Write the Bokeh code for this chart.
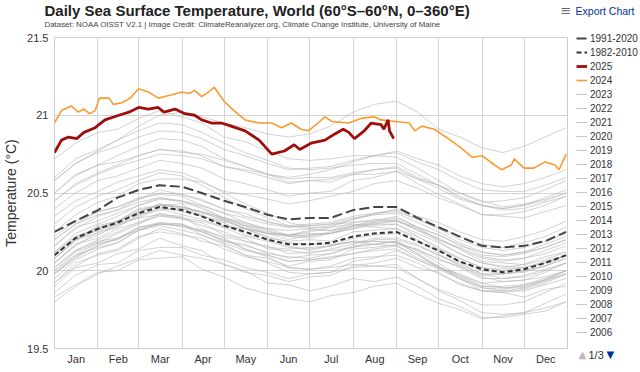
from bokeh.plotting import figure
from bokeh.layouts import column, row
from bokeh.models import (FixedTicker, Legend, LegendItem, Label, Range1d,
                          CustomJSTickFormatter, NumeralTickFormatter)
from bokeh.embed import file_html
from bokeh.resources import INLINE

FONT = "Liberation Sans"

# ---------------- data ----------------
month_names = ["Jan", "Feb", "Mar", "Apr", "May", "Jun", "Jul", "Aug", "Sep", "Oct", "Nov", "Dec"]
month_starts = [0, 31, 60, 91, 121, 152, 182, 213, 244, 274, 305, 335, 366]
y_ticks = [19.5, 20.0, 20.5, 21.0, 21.5]

half_month_days = [0, 15, 31, 45, 60, 75, 91, 105, 121, 136, 152, 167, 182, 197, 213, 228, 244,
                   259, 274, 289, 305, 320, 335, 350, 365]

clim_1991_2020 = [20.25, 20.32, 20.39, 20.47, 20.52, 20.55, 20.54, 20.50, 20.45, 20.41, 20.36, 20.33,
                  20.34, 20.34, 20.39, 20.41, 20.41, 20.34, 20.28, 20.22, 20.16, 20.15, 20.16, 20.19, 20.25]
clim_1982_2010 = [20.10, 20.21, 20.27, 20.31, 20.37, 20.41, 20.39, 20.35, 20.29, 20.25, 20.20, 20.17,
                  20.17, 20.18, 20.22, 20.24, 20.25, 20.19, 20.13, 20.06, 20.01, 19.99, 20.01, 20.05, 20.10]

days_2025 = [0, 5, 10, 16, 21, 29, 36, 46, 53, 60, 67, 74, 78, 86, 93, 100, 105, 112, 119, 126,
             136, 146, 155, 164, 171, 175, 183, 193, 200, 206, 210, 214, 221, 226, 233, 235, 238, 239, 242]
sst_2025 = [20.76, 20.84, 20.86, 20.85, 20.89, 20.92, 20.97, 21.00, 21.02, 21.05, 21.04, 21.05, 21.02,
            21.04, 21.01, 21.00, 20.97, 20.95, 20.95, 20.93, 20.90, 20.84, 20.75, 20.77, 20.81, 20.78,
            20.82, 20.84, 20.88, 20.91, 20.89, 20.85, 20.90, 20.95, 20.94, 20.91, 20.97, 20.90, 20.85]

days_2024 = [0, 5, 12, 17, 21, 25, 29, 32, 39, 42, 48, 54, 60, 67, 74, 83, 91, 96, 100, 105,
             110, 114, 121, 128, 136, 146, 155, 162, 169, 176, 181, 188, 193, 198, 210, 219, 228, 233,
             243, 253, 257, 262, 271, 281, 290, 298, 305, 314, 319, 326, 328, 335, 342, 350, 357, 360, 365]
sst_2024 = [20.95, 21.03, 21.06, 21.02, 21.04, 21.01, 21.03, 21.11, 21.11, 21.07, 21.08, 21.11, 21.17,
            21.15, 21.11, 21.13, 21.15, 21.14, 21.16, 21.12, 21.15, 21.18, 21.09, 21.03, 20.97, 20.95,
            20.95, 20.92, 20.95, 20.91, 20.90, 20.95, 20.99, 20.96, 20.95, 20.98, 20.99, 20.97, 20.96,
            20.95, 20.90, 20.93, 20.91, 20.85, 20.79, 20.73, 20.74, 20.68, 20.65, 20.68, 20.72, 20.66,
            20.66, 20.70, 20.68, 20.65, 20.75]

sst_1982 = [19.92, 20.05, 20.10, 20.13, 20.21, 20.27, 20.24, 20.19, 20.16, 20.10, 20.08, 20.03, 20.06, 20.07, 20.14, 20.15, 20.17, 20.14, 20.07, 20.03, 19.97, 19.98, 20.00, 20.03, 20.10]
sst_1983 = [20.12, 20.20, 20.29, 20.32, 20.40, 20.42, 20.43, 20.35, 20.31, 20.23, 20.20, 20.16, 20.13, 20.16, 20.19, 20.17, 20.19, 20.11, 20.02, 19.95, 19.87, 19.86, 19.83, 19.88, 19.90]
sst_1984 = [19.90, 20.02, 20.05, 20.11, 20.14, 20.21, 20.16, 20.13, 20.04, 20.00, 19.92, 19.91, 19.87, 19.90, 19.95, 19.93, 19.96, 19.90, 19.82, 19.77, 19.70, 19.70, 19.72, 19.74, 19.80]
sst_1985 = [19.83, 19.91, 19.99, 20.00, 20.07, 20.08, 20.09, 20.01, 19.96, 19.89, 19.85, 19.82, 19.80, 19.84, 19.86, 19.90, 19.92, 19.85, 19.79, 19.75, 19.69, 19.71, 19.73, 19.79, 19.85]
sst_1986 = [19.86, 19.97, 20.04, 20.05, 20.13, 20.15, 20.15, 20.10, 20.07, 20.02, 19.99, 19.95, 19.98, 19.99, 20.06, 20.08, 20.13, 20.07, 20.02, 19.98, 19.92, 19.93, 19.94, 19.99, 20.05]
sst_1987 = [20.05, 20.16, 20.25, 20.28, 20.36, 20.39, 20.40, 20.35, 20.32, 20.27, 20.24, 20.20, 20.23, 20.24, 20.27, 20.31, 20.32, 20.28, 20.20, 20.14, 20.06, 20.05, 20.04, 20.09, 20.12]
sst_1988 = [20.12, 20.22, 20.26, 20.30, 20.34, 20.36, 20.35, 20.27, 20.21, 20.14, 20.09, 20.02, 20.01, 20.02, 20.04, 20.03, 20.04, 19.95, 19.87, 19.81, 19.73, 19.72, 19.73, 19.76, 19.80]
sst_1989 = [19.80, 19.90, 19.98, 20.03, 20.08, 20.13, 20.10, 20.08, 20.04, 19.99, 19.97, 19.93, 19.96, 19.97, 20.03, 20.05, 20.08, 20.02, 19.99, 19.91, 19.87, 19.86, 19.88, 19.92, 19.98]
sst_1990 = [20.00, 20.12, 20.18, 20.24, 20.30, 20.36, 20.33, 20.31, 20.23, 20.21, 20.14, 20.13, 20.11, 20.14, 20.17, 20.21, 20.21, 20.17, 20.10, 20.04, 19.98, 19.95, 19.97, 20.01, 20.05]
sst_1991 = [20.05, 20.17, 20.21, 20.27, 20.31, 20.37, 20.34, 20.29, 20.25, 20.19, 20.16, 20.11, 20.12, 20.13, 20.15, 20.17, 20.16, 20.10, 20.02, 19.97, 19.90, 19.90, 19.91, 19.94, 20.00]
sst_1992 = [20.02, 20.13, 20.19, 20.21, 20.28, 20.31, 20.30, 20.23, 20.17, 20.10, 20.05, 19.99, 19.98, 19.99, 20.02, 20.03, 20.02, 19.95, 19.88, 19.83, 19.78, 19.78, 19.80, 19.86, 19.92]
sst_1993 = [19.92, 20.03, 20.11, 20.14, 20.22, 20.25, 20.23, 20.21, 20.14, 20.09, 20.06, 20.02, 20.01, 20.03, 20.08, 20.09, 20.10, 20.05, 19.98, 19.92, 19.87, 19.87, 19.89, 19.94, 20.00]
sst_1994 = [20.00, 20.10, 20.18, 20.20, 20.28, 20.30, 20.29, 20.26, 20.19, 20.16, 20.12, 20.08, 20.10, 20.11, 20.15, 20.20, 20.20, 20.16, 20.10, 20.05, 19.98, 19.98, 19.99, 20.03, 20.08]
sst_1995 = [20.08, 20.20, 20.24, 20.30, 20.34, 20.40, 20.36, 20.33, 20.28, 20.22, 20.19, 20.15, 20.14, 20.16, 20.19, 20.19, 20.18, 20.13, 20.05, 19.97, 19.92, 19.89, 19.90, 19.94, 19.98]
sst_1996 = [19.98, 20.09, 20.16, 20.21, 20.26, 20.31, 20.28, 20.25, 20.20, 20.14, 20.10, 20.06, 20.07, 20.08, 20.11, 20.13, 20.14, 20.07, 20.01, 19.95, 19.89, 19.88, 19.91, 19.95, 20.00]
sst_1997 = [20.02, 20.13, 20.20, 20.25, 20.31, 20.35, 20.34, 20.32, 20.28, 20.27, 20.24, 20.23, 20.25, 20.28, 20.33, 20.36, 20.40, 20.35, 20.31, 20.25, 20.20, 20.19, 20.22, 20.26, 20.32]
sst_1998 = [20.35, 20.45, 20.51, 20.57, 20.61, 20.65, 20.63, 20.58, 20.50, 20.43, 20.37, 20.31, 20.28, 20.28, 20.30, 20.28, 20.27, 20.20, 20.11, 20.03, 19.96, 19.93, 19.94, 19.96, 20.00]
sst_1999 = [19.98, 20.10, 20.15, 20.18, 20.26, 20.29, 20.26, 20.23, 20.18, 20.13, 20.10, 20.06, 20.07, 20.09, 20.11, 20.14, 20.16, 20.08, 20.03, 19.96, 19.90, 19.89, 19.89, 19.93, 19.98]
sst_2000 = [19.98, 20.08, 20.17, 20.20, 20.27, 20.30, 20.30, 20.25, 20.19, 20.17, 20.11, 20.09, 20.08, 20.11, 20.16, 20.17, 20.19, 20.13, 20.08, 20.02, 19.95, 19.95, 19.96, 20.00, 20.05]
sst_2001 = [20.05, 20.17, 20.23, 20.29, 20.35, 20.41, 20.38, 20.36, 20.29, 20.27, 20.21, 20.19, 20.20, 20.19, 20.25, 20.26, 20.27, 20.22, 20.14, 20.08, 20.02, 20.01, 20.02, 20.05, 20.10]
sst_2002 = [20.10, 20.22, 20.27, 20.32, 20.39, 20.42, 20.41, 20.38, 20.34, 20.29, 20.27, 20.23, 20.26, 20.26, 20.31, 20.32, 20.35, 20.28, 20.23, 20.17, 20.10, 20.09, 20.11, 20.15, 20.20]
sst_2003 = [20.22, 20.32, 20.38, 20.41, 20.47, 20.49, 20.48, 20.42, 20.37, 20.31, 20.26, 20.22, 20.23, 20.24, 20.28, 20.30, 20.32, 20.27, 20.20, 20.15, 20.09, 20.07, 20.08, 20.13, 20.18]
sst_2004 = [20.16, 20.28, 20.32, 20.37, 20.42, 20.47, 20.44, 20.41, 20.34, 20.30, 20.25, 20.23, 20.24, 20.24, 20.29, 20.31, 20.33, 20.26, 20.21, 20.14, 20.08, 20.06, 20.08, 20.11, 20.16]
sst_2005 = [20.16, 20.27, 20.35, 20.39, 20.46, 20.50, 20.49, 20.45, 20.40, 20.35, 20.32, 20.28, 20.29, 20.30, 20.31, 20.33, 20.32, 20.26, 20.19, 20.11, 20.05, 20.03, 20.02, 20.06, 20.10]
sst_2006 = [20.10, 20.21, 20.28, 20.32, 20.38, 20.43, 20.41, 20.37, 20.33, 20.29, 20.24, 20.23, 20.22, 20.25, 20.29, 20.32, 20.34, 20.28, 20.23, 20.16, 20.12, 20.10, 20.12, 20.17, 20.22]
sst_2007 = [20.20, 20.30, 20.36, 20.39, 20.44, 20.47, 20.45, 20.40, 20.33, 20.27, 20.22, 20.18, 20.17, 20.17, 20.18, 20.19, 20.18, 20.11, 20.03, 19.95, 19.89, 19.87, 19.87, 19.91, 19.95]
sst_2008 = [19.95, 20.07, 20.14, 20.18, 20.26, 20.30, 20.29, 20.26, 20.22, 20.19, 20.15, 20.14, 20.15, 20.16, 20.21, 20.23, 20.24, 20.19, 20.13, 20.06, 20.00, 19.98, 20.00, 20.03, 20.08]
sst_2009 = [20.08, 20.19, 20.27, 20.31, 20.38, 20.42, 20.41, 20.38, 20.34, 20.31, 20.27, 20.26, 20.27, 20.29, 20.33, 20.37, 20.38, 20.33, 20.28, 20.22, 20.17, 20.15, 20.18, 20.22, 20.28]
sst_2010 = [20.30, 20.41, 20.48, 20.52, 20.58, 20.63, 20.61, 20.55, 20.47, 20.40, 20.34, 20.29, 20.27, 20.26, 20.29, 20.30, 20.30, 20.22, 20.15, 20.08, 20.02, 20.00, 20.02, 20.05, 20.10]
sst_2011 = [20.08, 20.20, 20.26, 20.31, 20.37, 20.43, 20.40, 20.38, 20.32, 20.28, 20.24, 20.22, 20.21, 20.24, 20.27, 20.29, 20.30, 20.24, 20.18, 20.11, 20.05, 20.02, 20.04, 20.07, 20.12]
sst_2012 = [20.12, 20.24, 20.30, 20.35, 20.42, 20.46, 20.45, 20.42, 20.37, 20.34, 20.30, 20.28, 20.29, 20.30, 20.34, 20.36, 20.37, 20.31, 20.25, 20.18, 20.12, 20.10, 20.12, 20.15, 20.20]
sst_2013 = [20.20, 20.30, 20.38, 20.41, 20.46, 20.52, 20.49, 20.46, 20.39, 20.37, 20.31, 20.29, 20.30, 20.31, 20.35, 20.37, 20.39, 20.33, 20.27, 20.20, 20.15, 20.13, 20.15, 20.19, 20.24]
sst_2014 = [20.25, 20.36, 20.44, 20.48, 20.56, 20.59, 20.59, 20.57, 20.51, 20.49, 20.46, 20.43, 20.45, 20.48, 20.51, 20.56, 20.58, 20.53, 20.47, 20.42, 20.36, 20.36, 20.38, 20.42, 20.48]
sst_2015 = [20.45, 20.55, 20.62, 20.67, 20.71, 20.75, 20.74, 20.72, 20.67, 20.65, 20.62, 20.60, 20.62, 20.65, 20.70, 20.74, 20.77, 20.72, 20.68, 20.61, 20.56, 20.54, 20.56, 20.60, 20.65]
sst_2016 = [20.72, 20.82, 20.89, 20.91, 20.98, 21.03, 20.99, 20.95, 20.86, 20.83, 20.77, 20.72, 20.71, 20.72, 20.74, 20.74, 20.73, 20.66, 20.58, 20.50, 20.45, 20.41, 20.43, 20.46, 20.50]
sst_2017 = [20.50, 20.62, 20.68, 20.74, 20.80, 20.85, 20.84, 20.80, 20.72, 20.67, 20.62, 20.57, 20.58, 20.57, 20.62, 20.62, 20.64, 20.56, 20.49, 20.43, 20.36, 20.35, 20.34, 20.38, 20.42]
sst_2018 = [20.40, 20.50, 20.58, 20.61, 20.66, 20.71, 20.69, 20.66, 20.59, 20.56, 20.52, 20.48, 20.50, 20.51, 20.58, 20.60, 20.64, 20.59, 20.55, 20.50, 20.44, 20.45, 20.47, 20.52, 20.58]
sst_2019 = [20.58, 20.69, 20.76, 20.80, 20.86, 20.90, 20.89, 20.85, 20.78, 20.74, 20.69, 20.65, 20.66, 20.67, 20.71, 20.74, 20.76, 20.70, 20.65, 20.58, 20.52, 20.51, 20.51, 20.55, 20.60]
sst_2020 = [20.60, 20.72, 20.78, 20.84, 20.90, 20.95, 20.94, 20.89, 20.82, 20.76, 20.71, 20.66, 20.65, 20.66, 20.68, 20.69, 20.69, 20.62, 20.55, 20.47, 20.42, 20.39, 20.40, 20.44, 20.48]
sst_2021 = [20.45, 20.56, 20.63, 20.68, 20.74, 20.78, 20.77, 20.74, 20.67, 20.64, 20.60, 20.56, 20.58, 20.59, 20.62, 20.65, 20.67, 20.60, 20.55, 20.48, 20.42, 20.40, 20.42, 20.45, 20.50]
sst_2022 = [20.50, 20.61, 20.68, 20.70, 20.74, 20.78, 20.76, 20.75, 20.71, 20.67, 20.62, 20.59, 20.60, 20.60, 20.63, 20.65, 20.66, 20.59, 20.53, 20.46, 20.42, 20.40, 20.42, 20.47, 20.52]
sst_2023 = [20.58, 20.69, 20.77, 20.84, 20.93, 21.00, 21.02, 20.99, 20.95, 20.92, 20.88, 20.86, 20.88, 20.93, 21.02, 21.07, 21.09, 21.02, 20.91, 20.86, 20.79, 20.76, 20.80, 20.86, 20.92]

gray_years = [
    (1982, sst_1982), (1983, sst_1983), (1984, sst_1984), (1985, sst_1985), (1986, sst_1986),
    (1987, sst_1987), (1988, sst_1988), (1989, sst_1989), (1990, sst_1990), (1991, sst_1991),
    (1992, sst_1992), (1993, sst_1993), (1994, sst_1994), (1995, sst_1995), (1996, sst_1996),
    (1997, sst_1997), (1998, sst_1998), (1999, sst_1999), (2000, sst_2000), (2001, sst_2001),
    (2002, sst_2002), (2003, sst_2003), (2004, sst_2004), (2005, sst_2005), (2006, sst_2006),
    (2007, sst_2007), (2008, sst_2008), (2009, sst_2009), (2010, sst_2010), (2011, sst_2011),
    (2012, sst_2012), (2013, sst_2013), (2014, sst_2014), (2015, sst_2015), (2016, sst_2016),
    (2017, sst_2017), (2018, sst_2018), (2019, sst_2019), (2020, sst_2020), (2021, sst_2021),
    (2022, sst_2022), (2023, sst_2023),
]
legend_gray_years = list(range(2023, 2005, -1))

# ---------------- styles ----------------
GRAY = dict(line_color="#b4b4b4", line_alpha=0.6, line_width=1)
S8210 = dict(line_color="#333333", line_width=2, line_dash="5 3")
S9120 = dict(line_color="#444444", line_width=2, line_dash="10 4")
S2024 = dict(line_color="#fb9a2e", line_width=1.6)
S2025 = dict(line_color="#a00d0d", line_width=2.8)

TOTAL_W, TOTAL_H = 640, 372
HEAD_H = 30
MAIN_W = 568
BODY_H = TOTAL_H - HEAD_H
SIDE_W = TOTAL_W - MAIN_W


def bare_figure(w, h):
    f = figure(width=w, height=h, output_backend="svg", toolbar_location=None,
               x_axis_type=None, y_axis_type=None,
               x_range=Range1d(0, w), y_range=Range1d(h, 0), min_border=0)
    f.outline_line_color = None
    f.background_fill_color = "white"
    f.border_fill_color = "white"
    return f


# ---------------- header ----------------
head = bare_figure(TOTAL_W, HEAD_H)
head.add_layout(Label(x=44, y=10, text="Daily Sea Surface Temperature, World (60°S–60°N, 0–360°E)",
                      text_font=FONT, text_font_size="15px", text_font_style="bold",
                      text_color="#222222", text_baseline="middle", text_align="left"))
head.add_layout(Label(x=44, y=24,
                      text="Dataset: NOAA OISST V2.1 | Image Credit: ClimateReanalyzer.org, Climate Change Institute, University of Maine",
                      text_font=FONT, text_font_size="7.9px",
                      text_color="#444444", text_baseline="middle", text_align="left"))
head.add_layout(Label(x=634, y=10, text="Export Chart",
                      text_font=FONT, text_font_size="10.5px",
                      text_color="#003399", text_baseline="middle", text_align="right"))
head.add_layout(Label(x=571, y=10, text="≡",
                      text_font="DejaVu Sans", text_font_size="13px",
                      text_color="#666666", text_baseline="middle", text_align="right"))

# ---------------- main chart ----------------
p = figure(width=MAIN_W, height=BODY_H, output_backend="svg", toolbar_location=None,
           x_range=Range1d(0, 366), y_range=Range1d(19.5, 21.5),
           min_border_left=53, min_border_right=1, min_border_top=7, min_border_bottom=24)
p.background_fill_color = "white"
p.border_fill_color = "white"
p.outline_line_color = "#cccccc"

month_mids = [(month_starts[i] + month_starts[i + 1]) / 2 for i in range(12)]
p.xaxis.ticker = FixedTicker(ticks=month_mids)
p.xaxis.formatter = CustomJSTickFormatter(args=dict(mids=month_mids, labels=month_names), code="""
let k = -1;
for (let i = 0; i < mids.length; i++) { if (Math.abs(mids[i] - tick) < 0.01) { k = i; } }
return k >= 0 ? labels[k] : "";
""")
p.yaxis.ticker = FixedTicker(ticks=y_ticks)
p.yaxis.formatter = NumeralTickFormatter(format="0.[0]")
for ax in (p.xaxis[0], p.yaxis[0]):
    ax.major_tick_line_color = None
    ax.minor_tick_line_color = None
    ax.major_tick_out = 0
    ax.major_tick_in = 0
    ax.minor_tick_out = 0
    ax.minor_tick_in = 0
    ax.axis_line_color = None
    ax.major_label_text_font = FONT
    ax.major_label_text_font_size = "11px"
    ax.major_label_text_color = "#333333"
p.xaxis.major_label_standoff = 4
p.yaxis.major_label_standoff = 6
p.yaxis.axis_label = "Temperature (°C)"
p.yaxis.axis_label_text_font = FONT
p.yaxis.axis_label_text_font_size = "14px"
p.yaxis.axis_label_text_font_style = "normal"
p.yaxis.axis_label_text_color = "#333333"
p.yaxis.axis_label_standoff = 5

p.xgrid.ticker = FixedTicker(ticks=month_starts[1:-1])
p.ygrid.ticker = FixedTicker(ticks=y_ticks)
p.xgrid.grid_line_color = "#d4d4d4"
p.ygrid.grid_line_color = "#d4d4d4"

for yr, vals in gray_years:
    p.line(half_month_days, vals, **GRAY)
p.line(half_month_days, clim_1982_2010, **S8210)
p.line(half_month_days, clim_1991_2020, **S9120)
p.line(days_2024, sst_2024, **S2024)
p.line(days_2025, sst_2025, **S2025)

# ---------------- legend side panel ----------------
side = bare_figure(SIDE_W, BODY_H)
nan = float("nan")
lg = {}
lg["1991-2020"] = side.line([nan], [nan], **S9120)
lg["1982-2010"] = side.line([nan], [nan], **S8210)
lg["2025"] = side.line([nan], [nan], **S2025)
lg["2024"] = side.line([nan], [nan], **S2024)
for yr in legend_gray_years:
    lg[str(yr)] = side.line([nan], [nan], line_color="#c4c4c4", line_width=1)

items = [LegendItem(label=k, renderers=[r]) for k, r in lg.items()]
N_ITEMS = len(items)
ITEM_H = 14
legend = Legend(items=items, location=(8, BODY_H - 1 - N_ITEMS * ITEM_H), orientation="vertical",
                label_text_font=FONT, label_text_font_size="10px", label_text_color="#333333",
                label_height=ITEM_H, glyph_height=ITEM_H, glyph_width=11, label_standoff=3,
                spacing=0, padding=0, margin=0,
                border_line_color=None, background_fill_alpha=0)
side.add_layout(legend)

PAGE_Y = 324
side.add_layout(Label(x=10, y=PAGE_Y, text="▲", text_font="DejaVu Sans", text_font_size="10px",
                      text_color="#bbbbbb", text_baseline="middle", text_align="left"))
side.add_layout(Label(x=20, y=PAGE_Y, text="1/3", text_font=FONT, text_font_size="11px",
                      text_color="#333333", text_baseline="middle", text_align="left"))
side.add_layout(Label(x=38, y=PAGE_Y, text="▼", text_font="DejaVu Sans", text_font_size="10px",
                      text_color="#003399", text_baseline="middle", text_align="left"))

layout = column(head, row(p, column(side)))
open("out.html", "w").write(file_html(layout, INLINE))
